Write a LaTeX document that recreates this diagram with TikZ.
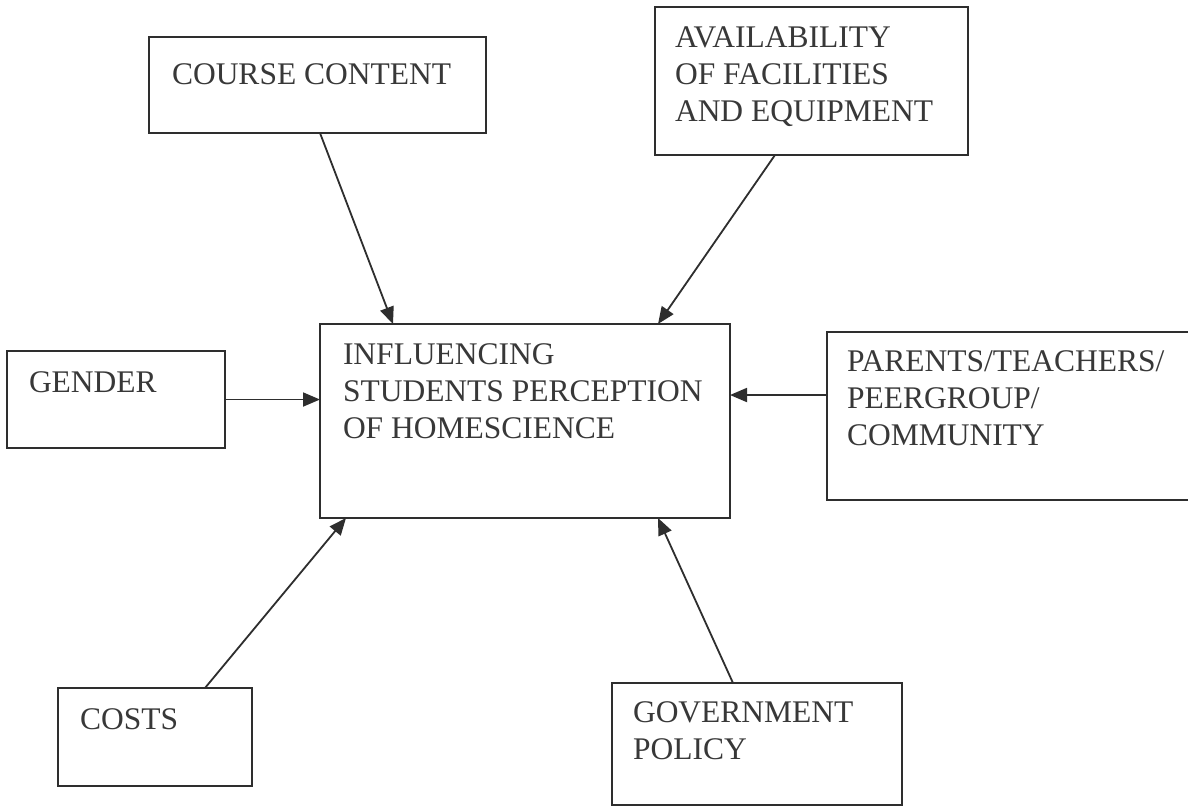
\documentclass[tikz,border=0pt]{standalone}
\usepackage{fontspec}
\setmainfont{Liberation Serif}
\usetikzlibrary{arrows.meta}
\definecolor{ink}{HTML}{2E2E2E}
\definecolor{txtc}{HTML}{383838}
\begin{document}
\begin{tikzpicture}[x=1pt,y=-1pt,
  box/.style={draw=ink, line width=1.8pt, rectangle, inner sep=0pt, outer sep=0pt},
  lbl/.style={anchor=north west, inner sep=0pt, outer sep=0pt, align=left, text=txtc,
    font=\fontsize{31.5}{37}\selectfont},
  conn/.style={draw=ink, line width=1.8pt, -{Triangle[length=17pt,width=14pt]}}]
\useasboundingbox (0,0) rectangle (1188,806);
\fill[white] (0,0) rectangle (1188,806);
% boxes
\node[box, minimum width=337pt, minimum height=96pt] (cc) at (317.5,85) {};
\node[box, minimum width=313pt, minimum height=148pt] (av) at (811.5,81) {};
\node[box, minimum width=218pt, minimum height=97pt] (ge) at (116,399.5) {};
\node[box, minimum width=410pt, minimum height=194pt] (main) at (525,421) {};
\node[box, minimum width=366pt, minimum height=168pt] (pa) at (1010,416) {};
\node[box, minimum width=194pt, minimum height=98pt] (co) at (155,737) {};
\node[box, minimum width=290pt, minimum height=122pt] (go) at (757,744) {};
% texts
\node[lbl] (tcc) at (172,64) {COURSE CONTENT};
\node[lbl] (tav) at (675,27) {AVAILABILITY\\OF FACILITIES\\AND EQUIPMENT};
\node[lbl] (tge) at (29,372) {GENDER};
\node[lbl] (tmain) at (343,344) {INFLUENCING\\STUDENTS PERCEPTION\\OF HOMESCIENCE};
\node[lbl] (tpa) at (847,351) {PARENTS/TEACHERS/\\PEERGROUP/\\COMMUNITY};
\node[lbl] (tco) at (80,709) {COSTS};
\node[lbl] (tgo) at (633,702) {GOVERNMENT\\POLICY};
% connectors
\draw[conn] ([xshift=171pt]cc.south west) -- ([xshift=73pt]main.north west);
\draw[conn] ([xshift=120pt]av.south west) -- ([xshift=338pt]main.north west);
\draw[conn] (ge.east) -- (ge.east -| main.west);
\coordinate (pin) at ([yshift=21pt]pa.west);
\draw[conn] (pin) -- (pin -| main.east);
\draw[conn] ([xshift=147pt]co.north west) -- ([xshift=26pt]main.south west);
\draw[conn] ([xshift=121pt]go.north west) -- ([xshift=338pt]main.south west);
\end{tikzpicture}
\end{document}
